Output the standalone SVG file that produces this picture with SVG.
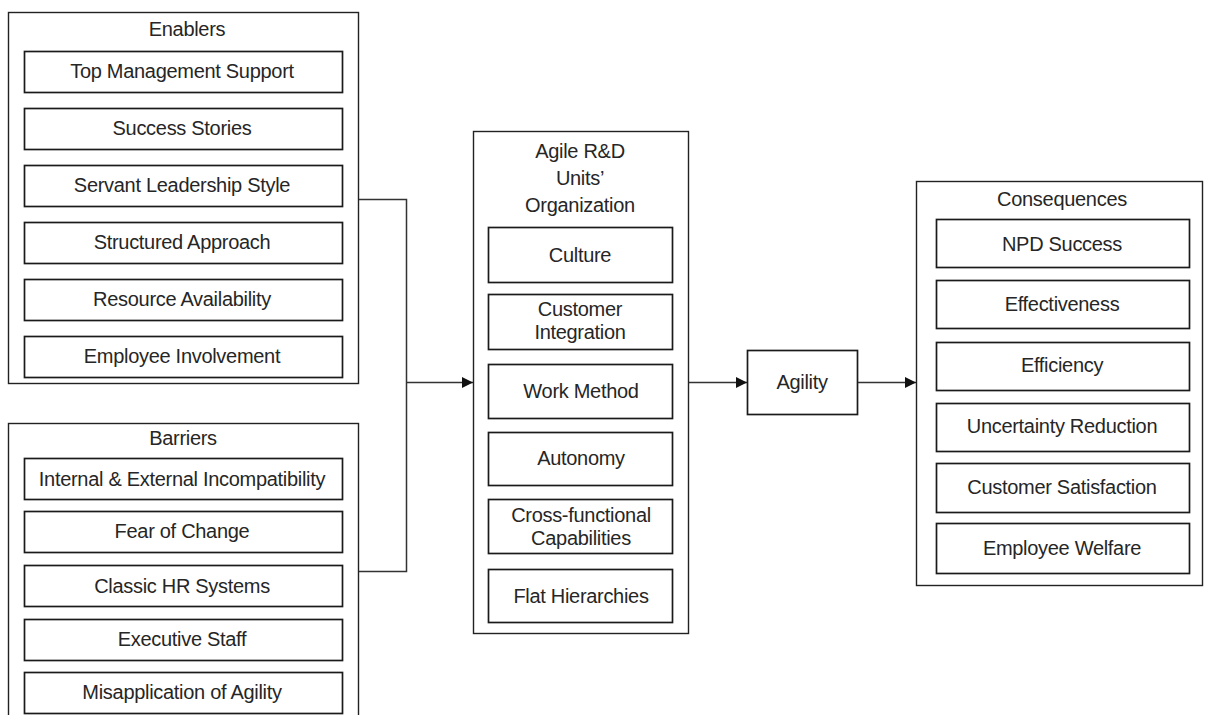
<svg xmlns="http://www.w3.org/2000/svg" width="1216" height="715" viewBox="0 0 1216 715">
  <style>
    .frame { fill: #ffffff; stroke: #222222; stroke-width: 1.4; }
    .item { fill: #ffffff; stroke: #1a1a1a; stroke-width: 1.7; }
    .label { font-family: "Liberation Sans", Arial, sans-serif; font-size: 20px; letter-spacing: -0.3px; fill: #262626; text-anchor: middle; }
    .wire { fill: none; stroke: #333333; stroke-width: 1.5; }
  </style>
  <defs>
    <marker id="arrow" viewBox="0 0 10 10" refX="10" refY="5" markerWidth="11" markerHeight="11" markerUnits="userSpaceOnUse" orient="auto">
      <path d="M0,0 L10,5 L0,10 z" fill="#111111"/>
    </marker>
  </defs>
  <rect width="1216" height="715" fill="#ffffff"/>

  <!-- Enablers -->
  <g id="enablers">
    <rect class="frame" x="8.5" y="12.5" width="350" height="371"/>
    <text class="label" x="187" y="36">Enablers</text>
    <rect class="item" x="24.5" y="51.5" width="318" height="41"/>
    <text class="label" x="182" y="78">Top Management Support</text>
    <rect class="item" x="24.5" y="108.5" width="318" height="41"/>
    <text class="label" x="182" y="135">Success Stories</text>
    <rect class="item" x="24.5" y="165.5" width="318" height="41"/>
    <text class="label" x="182" y="192">Servant Leadership Style</text>
    <rect class="item" x="24.5" y="222.5" width="318" height="41"/>
    <text class="label" x="182" y="249">Structured Approach</text>
    <rect class="item" x="24.5" y="279.5" width="318" height="41"/>
    <text class="label" x="182" y="306">Resource Availability</text>
    <rect class="item" x="24.5" y="336.5" width="318" height="41"/>
    <text class="label" x="182" y="363">Employee Involvement</text>
  </g>

  <!-- Barriers -->
  <g id="barriers">
    <rect class="frame" x="8.5" y="423.5" width="350" height="300"/>
    <text class="label" x="183" y="445">Barriers</text>
    <rect class="item" x="24.5" y="458.5" width="318" height="41"/>
    <text class="label" x="182" y="486">Internal &amp; External Incompatibility</text>
    <rect class="item" x="24.5" y="511.5" width="318" height="41"/>
    <text class="label" x="182" y="538">Fear of Change</text>
    <rect class="item" x="24.5" y="565.5" width="318" height="41"/>
    <text class="label" x="182" y="593">Classic HR Systems</text>
    <rect class="item" x="24.5" y="619.5" width="318" height="41"/>
    <text class="label" x="182" y="646">Executive Staff</text>
    <rect class="item" x="24.5" y="672.5" width="318" height="41"/>
    <text class="label" x="182" y="699">Misapplication of Agility</text>
  </g>

  <!-- Agile R&D units' organization -->
  <g id="organization">
    <rect class="frame" x="473.5" y="131.5" width="215" height="502"/>
    <text class="label" x="580" y="158">Agile R&amp;D</text>
    <text class="label" x="580" y="185">Units’</text>
    <text class="label" x="580" y="212">Organization</text>
    <rect class="item" x="488.5" y="227.5" width="184" height="55"/>
    <text class="label" x="580" y="262">Culture</text>
    <rect class="item" x="488.5" y="294.5" width="184" height="55"/>
    <text class="label" x="580" y="316">Customer</text>
    <text class="label" x="580" y="339">Integration</text>
    <rect class="item" x="488.5" y="364.5" width="184" height="54"/>
    <text class="label" x="581" y="398">Work Method</text>
    <rect class="item" x="488.5" y="432.5" width="184" height="53"/>
    <text class="label" x="581" y="465">Autonomy</text>
    <rect class="item" x="488.5" y="499.5" width="184" height="54"/>
    <text class="label" x="581" y="522">Cross-functional</text>
    <text class="label" x="581" y="545">Capabilities</text>
    <rect class="item" x="488.5" y="569.5" width="184" height="53"/>
    <text class="label" x="581" y="603">Flat Hierarchies</text>
  </g>

  <!-- Agility -->
  <g id="agility">
    <rect class="item" x="747.5" y="350.5" width="110" height="64"/>
    <text class="label" x="802" y="389">Agility</text>
  </g>

  <!-- Consequences -->
  <g id="consequences">
    <rect class="frame" x="916.5" y="181.5" width="286" height="404"/>
    <text class="label" x="1062" y="206">Consequences</text>
    <rect class="item" x="936.5" y="219.5" width="253" height="48"/>
    <text class="label" x="1062" y="251">NPD Success</text>
    <rect class="item" x="936.5" y="280.5" width="253" height="48"/>
    <text class="label" x="1062" y="311">Effectiveness</text>
    <rect class="item" x="936.5" y="342.5" width="253" height="48"/>
    <text class="label" x="1062" y="372">Efficiency</text>
    <rect class="item" x="936.5" y="403.5" width="253" height="48"/>
    <text class="label" x="1062" y="433">Uncertainty Reduction</text>
    <rect class="item" x="936.5" y="463.5" width="253" height="49"/>
    <text class="label" x="1062" y="494">Customer Satisfaction</text>
    <rect class="item" x="936.5" y="523.5" width="253" height="50"/>
    <text class="label" x="1062" y="555">Employee Welfare</text>
  </g>

  <!-- Connectors -->
  <g id="connectors">
    <path class="wire" d="M359,199.5 H406.5 V571.5 H359"/>
    <path class="wire" d="M406.5,382.5 H473" marker-end="url(#arrow)"/>
    <path class="wire" d="M689,382.5 H747" marker-end="url(#arrow)"/>
    <path class="wire" d="M858,382.5 H916" marker-end="url(#arrow)"/>
  </g>
</svg>
